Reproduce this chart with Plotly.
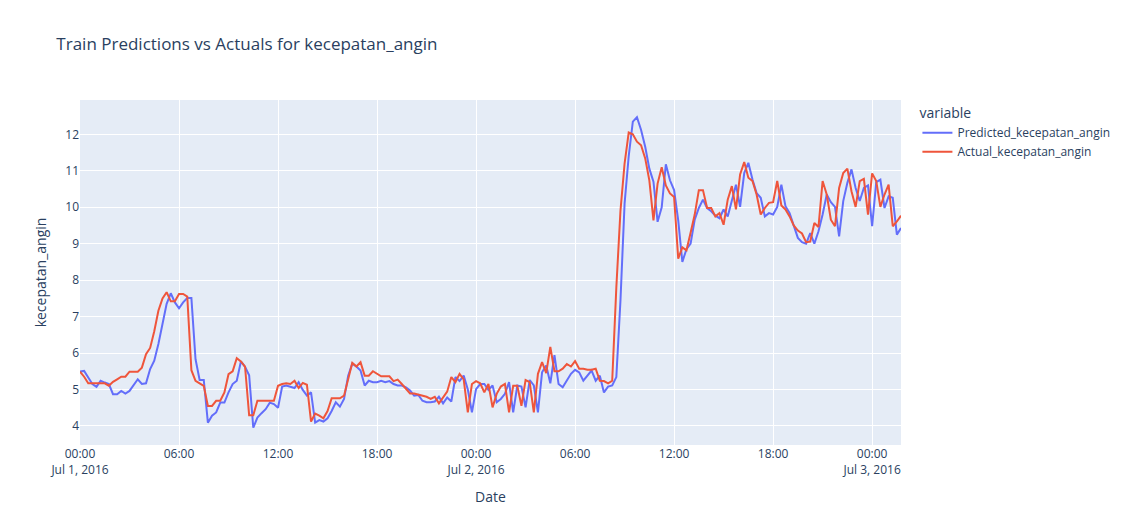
import pandas as pd
import plotly.express as px

start_time = "2016-07-01 00:00"
n_points = 200
freq = "15min"

predicted = [
    5.49, 5.51, 5.33, 5.15, 5.07, 5.24, 5.19, 5.15, 4.87, 4.87,
    4.96, 4.89, 4.96, 5.12, 5.28, 5.15, 5.17, 5.56, 5.79, 6.25,
    6.8, 7.35, 7.64, 7.39, 7.23, 7.39, 7.51, 7.51, 5.83, 5.26,
    5.26, 4.09, 4.28, 4.37, 4.64, 4.64, 4.92, 5.15, 5.24, 5.77,
    5.62, 5.39, 3.95, 4.23, 4.35, 4.46, 4.64, 4.6, 4.5, 5.08,
    5.11, 5.08, 5.04, 5.2, 4.99, 4.83, 4.92, 4.09, 4.16, 4.12,
    4.21, 4.41, 4.65, 4.53, 4.74, 5.38, 5.71, 5.63, 5.52, 5.11,
    5.24, 5.2, 5.2, 5.24, 5.2, 5.23, 5.15, 5.11, 5.11, 5.06,
    4.97, 4.83, 4.85, 4.69, 4.65, 4.65, 4.67, 4.8, 4.62, 4.78,
    4.67, 5.34, 5.23, 5.38, 5.0, 4.37, 5.01, 5.15, 5.15, 4.99,
    5.11, 4.65, 4.74, 4.88, 5.2, 4.37, 5.11, 5.08, 4.51, 5.26,
    5.11, 4.37, 5.47, 5.66, 5.17, 5.94, 5.15, 5.06, 5.24, 5.43,
    5.54, 5.47, 5.24, 5.38, 5.52, 5.24, 5.38, 4.92, 5.08, 5.11,
    5.34, 7.44, 10.1, 11.4, 12.35, 12.47, 12.12, 11.66, 11.06, 10.7,
    9.6, 10.0, 11.18, 10.74, 10.47, 9.64, 8.5, 8.85, 9.0, 9.66,
    9.98, 10.21, 9.98, 9.89, 9.77, 9.7, 9.94, 9.75, 10.21, 10.62,
    10.01, 10.94, 11.22, 10.76, 10.39, 10.26, 9.75, 9.84, 9.8, 10.01,
    10.62, 10.03, 9.84, 9.5, 9.16, 9.04, 9.0, 9.29, 9.0, 9.34,
    9.8, 10.35, 10.14, 10.01, 9.2, 10.17, 10.67, 11.04, 10.53, 10.17,
    10.53, 10.6, 9.48, 10.69, 10.76, 9.98, 10.3, 10.26, 9.25, 9.43,
]

actual = [
    5.49, 5.35, 5.17, 5.17, 5.17, 5.17, 5.17, 5.1, 5.21, 5.28,
    5.35, 5.35, 5.49, 5.49, 5.49, 5.6, 5.97, 6.14, 6.6, 7.16,
    7.5, 7.67, 7.42, 7.42, 7.62, 7.62, 7.55, 5.53, 5.24, 5.17,
    5.1, 4.55, 4.55, 4.69, 4.69, 4.92, 5.42, 5.5, 5.86, 5.77,
    5.63, 4.29, 4.29, 4.69, 4.69, 4.69, 4.69, 4.69, 5.1, 5.15,
    5.17, 5.15, 5.24, 5.04, 5.18, 5.13, 4.12, 4.34, 4.28, 4.21,
    4.41, 4.76, 4.76, 4.76, 4.83, 5.26, 5.73, 5.63, 5.75, 5.38,
    5.38, 5.5, 5.43, 5.36, 5.36, 5.36, 5.23, 5.27, 5.15, 5.01,
    4.89, 4.89, 4.86, 4.83, 4.8, 4.74, 4.8, 4.62, 4.78, 4.94,
    5.34, 5.2, 5.43, 5.28, 4.37, 5.15, 5.23, 5.17, 4.92, 5.15,
    4.51, 4.88, 5.08, 5.15, 4.37, 5.1, 5.1, 4.55, 5.26, 5.2,
    4.37, 5.43, 5.75, 5.45, 6.17, 5.5, 5.5, 5.57, 5.7, 5.63,
    5.78, 5.57, 5.57, 5.54, 5.54, 5.57, 5.24, 5.23, 5.17, 5.24,
    7.8, 9.9, 11.2, 12.05, 12.0, 11.8, 11.7, 11.34, 10.74, 9.64,
    10.65, 11.1, 10.6, 10.38, 10.28, 8.59, 8.9, 8.82, 9.3, 9.8,
    10.47, 10.47, 9.98, 9.98, 9.75, 9.84, 9.52, 10.21, 10.58, 9.94,
    10.9, 11.24, 10.81, 10.72, 10.35, 9.8, 9.98, 10.12, 10.14, 10.72,
    10.05, 9.94, 9.75, 9.5, 9.36, 9.28, 9.04, 9.06, 9.57, 9.46,
    10.72, 10.35, 9.66, 9.48, 10.53, 10.94, 11.06, 10.44, 10.01, 10.72,
    10.78, 9.8, 10.93, 10.72, 10.01, 10.35, 10.62, 9.48, 9.61, 9.77,
]

dates = pd.date_range(start=start_time, periods=n_points, freq=freq)

df = pd.DataFrame({
    "Date": dates,
    "Predicted_kecepatan_angin": predicted,
    "Actual_kecepatan_angin": actual,
})
long_df = df.melt(id_vars="Date", var_name="variable", value_name="kecepatan_angin")

fig = px.line(
    long_df,
    x="Date",
    y="kecepatan_angin",
    color="variable",
    title="Train Predictions vs Actuals for kecepatan_angin",
)
fig.update_layout(width=1127, height=525)
fig.write_html(
    "out.html",
    config={"displayModeBar": False},
    post_script="document.body.style.margin='0';document.body.style.overflow='hidden';",
)
